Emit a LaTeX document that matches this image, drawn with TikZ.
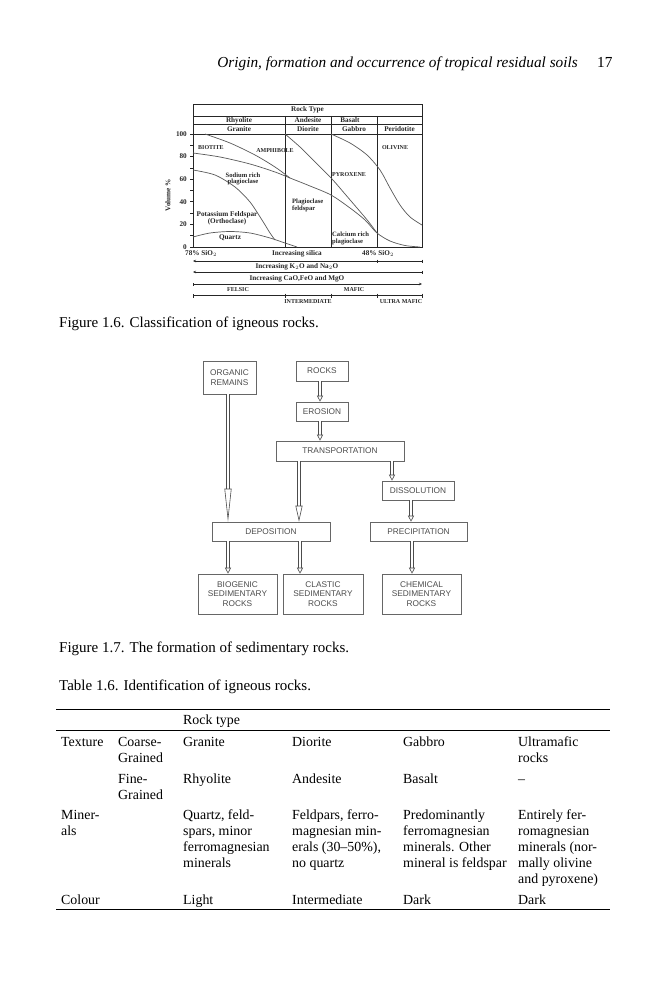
\documentclass[tikz,border=0pt]{standalone}
\usepackage{fontspec}
\setmainfont{Liberation Serif}
\newfontfamily\flowfont{Liberation Sans}
\usetikzlibrary{arrows.meta}
\usetikzlibrary{calc}

\newcommand\cellx[1]{\begin{tabular}[t]{@{}l@{}}#1\end{tabular}}

\tikzset{
  chartlbl/.style={font=\fontsize{7.2}{7.4}\selectfont\bfseries, inner sep=0pt, text=black!85},
  capslbl/.style={font=\fontsize{6}{6}\selectfont\bfseries, inner sep=0pt, text=black!85},
  frame/.style={draw=black!85, line width=0.7pt},
  curve/.style={draw=black!65, line width=0.7pt},
  flowbox/.style={draw=black!60, line width=0.6pt, font=\flowfont\fontsize{8.3}{9.3}\selectfont,
                  text=black!70, align=center, inner sep=0pt},
  dbl/.style={draw=black!70, line width=0.6pt, double=white, double distance=2.2pt,
              -{Triangle[open,length=6pt,width=6pt]}},
  body/.style={font=\fontsize{15}{16.4}\selectfont, inner sep=0pt, anchor=base west},
  tbl/.style={body, font=\fontsize{13.9}{16}\selectfont},
  rule/.style={line width=0.5pt},
}

\begin{document}
\begin{tikzpicture}[x=1pt, y=-1pt]
\useasboundingbox[fill=white] (0,0) rectangle (666,1000);

% running head
\node[body, anchor=base east, font=\fontsize{15.3}{16}\selectfont\itshape] (head) at (578,68)
  {Origin, formation and occurrence of tropical residual soils};
\node[body, font=\fontsize{15.3}{16}\selectfont] (page) at (597,68) {17};

%% ---- Figure 1.6 ----
\draw[frame] (193,104) rectangle (422,247);
\draw[frame] (193,116) -- (422,116) (193,124.5) -- (422,124.5) (193,134) -- (422,134);
\foreach \cx in {285,331,377}
  \draw[frame] (\cx,116) -- (\cx,247);
\foreach \v in {0,10,...,100}
  \draw[frame] (193,{247-1.13*\v}) -- (190,{247-1.13*\v});
\foreach \v in {0,20,...,100}
  \node[chartlbl, anchor=east] at (187,{247-1.13*\v}) {\v};
\node[chartlbl, rotate=90] (vol) at (168,195) {Volume \%};

\node[chartlbl] (rtype) at (307.5,110) {Rock Type};
\node[chartlbl] at (239,120.3) {Rhyolite};
\node[chartlbl] at (308,120.3) {Andesite};
\node[chartlbl] at (350,120.3) {Basalt};
\node[chartlbl] at (239,129.3) {Granite};
\node[chartlbl] at (308,129.3) {Diorite};
\node[chartlbl] at (354,129.3) {Gabbro};
\node[chartlbl] at (399.5,129.3) {Peridotite};

% mineral boundaries
\draw[curve] plot[smooth] coordinates {(205,134) (230,143) (255,155) (275,167) (290,178)};
\draw[curve] plot[smooth] coordinates {(193,153) (220,157) (250,164) (275,172) (290,178)
  (310,186) (331,195) (350,208) (365,220) (377,233) (390,241) (405,245.5) (420,247)};
\draw[curve] plot[smooth] coordinates {(285,134) (300,147) (315,162) (332,179) (345,194)
  (357,208) (368,221) (377,233)};
\draw[curve] plot[smooth] coordinates {(331,134) (350,143) (367,155) (380,170) (390,188)
  (400,205) (410,217) (422,225)};
\draw[curve] plot[smooth] coordinates {(193,170) (215,175) (235,187) (250,202) (262,220)
  (270,233) (275,240)};
\draw[curve] plot[smooth] coordinates {(193,237) (210,233) (230,231.5) (250,233) (270,238)
  (285,243) (297,247)};

\node[capslbl, anchor=west] at (198,147.5) {BIOTITE};
\node[capslbl] at (275,151) {AMPHIBOLE};
\node[capslbl] at (395,148) {OLIVINE};
\node[capslbl] at (349,175) {PYROXENE};
\node[chartlbl, align=center, font=\fontsize{6.6}{6.8}\selectfont\bfseries] at (243,179) {Sodium rich\\plagioclase};
\node[chartlbl, align=left, anchor=west, font=\fontsize{6.6}{6.8}\selectfont\bfseries] at (292,205.5) {Plagioclase\\feldspar};
\node[chartlbl, align=center] at (227,218) {Potassium Feldspar\\(Orthoclase)};
\node[chartlbl] at (230,238) {Quartz};
\node[chartlbl, align=left, anchor=west, font=\fontsize{6.6}{6.8}\selectfont\bfseries] at (332,238.5) {Calcium rich\\plagioclase};

% scales under the chart
\node[chartlbl, anchor=west] at (185,254) {78\% SiO$_2$};
\node[chartlbl] at (297,254) {Increasing silica};
\node[chartlbl, anchor=west] at (362,254) {48\% SiO$_2$};
\draw[frame, line width=0.5pt, {Stealth[length=3pt,width=2.5pt]}-{Bar[width=3pt]}] (193,261) -- (422,261);
\draw[frame, line width=0.5pt] (377,259.5) -- (377,262.5);
\node[chartlbl] at (297,266.5) {Increasing K$_2$O and Na$_2$O};
\draw[frame, line width=0.5pt, {Stealth[length=3pt,width=2.5pt]}-{Bar[width=3pt]}] (193,272) -- (422,272);
\node[chartlbl] at (297,279) {Increasing CaO,FeO and MgO};
\draw[frame, line width=0.5pt, {Bar[width=3pt]}-{Stealth[length=3pt,width=2.5pt]}] (193,284) -- (422,284);
\draw[frame, line width=0.5pt, {Bar[width=4pt]}-{Bar[width=4pt]}] (193,295.5) -- (422,295.5);
\foreach \cx in {285,331,377}
  \draw[frame, line width=0.5pt] (\cx,293.5) -- (\cx,297.5);
\node[capslbl] at (238,290) {FELSIC};
\node[capslbl] at (354,290) {MAFIC};
\node[capslbl] at (308,302) {INTERMEDIATE};
\node[capslbl] at (401,302) {ULTRA MAFIC};

\node[body] (cap1) at (59,327) {Figure 1.6. Classification of igneous rocks.};

%% ---- Figure 1.7 ----
\node[flowbox, minimum width=53pt, minimum height=33pt] (org) at (229.5,377.5) {ORGANIC\\REMAINS};
\node[flowbox, minimum width=52pt, minimum height=20pt] (rocks) at (322,371) {ROCKS};
\node[flowbox, minimum width=52pt, minimum height=19pt] (ero) at (322,411.5) {EROSION};
\node[flowbox, minimum width=128pt, minimum height=20pt] (trans) at (340,451) {TRANSPORTATION};
\node[flowbox, minimum width=72pt, minimum height=19pt] (diss) at (418,490.5) {DISSOLUTION};
\node[flowbox, minimum width=118pt, minimum height=19pt] (dep) at (271,531.5) {DEPOSITION};
\node[flowbox, minimum width=97pt, minimum height=19pt] (prec) at (418.5,531.5) {PRECIPITATION};
\node[flowbox, minimum width=79pt, minimum height=40pt] (bio) at (237.5,594) {BIOGENIC\\SEDIMENTARY\\ROCKS};
\node[flowbox, minimum width=80pt, minimum height=40pt] (clas) at (323,594) {CLASTIC\\SEDIMENTARY\\ROCKS};
\node[flowbox, minimum width=79pt, minimum height=40pt] (chem) at (421.5,594) {CHEMICAL\\SEDIMENTARY\\ROCKS};

\draw[dbl] (rocks.south -| 320,0) -- (ero.north -| 320,0);
\draw[dbl] (ero.south -| 320,0) -- (trans.north -| 320,0);
\draw[dbl, -{Triangle[open,length=33pt,width=7pt]}] (org.south -| 228,0) -- (dep.north -| 228,0);
\draw[dbl, -{Triangle[open,length=16pt,width=7pt]}] (trans.south -| 299,0) -- (dep.north -| 299,0);
\draw[dbl] (trans.south -| 392,0) -- (diss.north -| 392,0);
\draw[dbl] (diss.south -| 411,0) -- (prec.north -| 411,0);
\draw[dbl] (dep.south -| 228,0) -- (bio.north -| 228,0);
\draw[dbl] (dep.south -| 300,0) -- (clas.north -| 300,0);
\draw[dbl] (prec.south -| 412,0) -- (chem.north -| 412,0);

\node[body] (cap2) at (59,652) {Figure 1.7. The formation of sedimentary rocks.};

%% ---- Table 1.6 ----
\node[body] (cap3) at (59,690) {Table 1.6. Identification of igneous rocks.};
\draw[line width=1.1pt] (56,709.3) -- (610,709.3);
\draw[rule] (56,730.6) -- (610,730.6);
\draw[rule] (56,909.5) -- (610,909.5);

\node[tbl] at (183,724.7) {Rock type};

\node[tbl] at (61,746.4) {Texture};
\node[tbl] at (118,746.4) {\cellx{Coarse-\\Grained}};
\node[tbl] at (183,746.4) {Granite};
\node[tbl] at (292,746.4) {Diorite};
\node[tbl] at (403,746.4) {Gabbro};
\node[tbl] at (518,746.4) {\cellx{Ultramafic\\rocks}};

\node[tbl] at (118,783) {\cellx{Fine-\\Grained}};
\node[tbl] at (183,783) {Rhyolite};
\node[tbl] at (292,783) {Andesite};
\node[tbl] at (403,783) {Basalt};
\node[tbl] at (518,783) {--};

\node[tbl] at (61,819.6) {\cellx{Miner-\\als}};
\node[tbl] at (183,819.6) {\cellx{Quartz, feld-\\spars, minor\\ferromagnesian\\minerals}};
\node[tbl] at (292,819.6) {\cellx{Feldpars, ferro-\\magnesian min-\\erals (30--50\%),\\no quartz}};
\node[tbl] at (403,819.6) {\cellx{Predominantly\\ferromagnesian\\minerals. Other\\mineral is feldspar}};
\node[tbl] at (518,819.6) {\cellx{Entirely fer-\\romagnesian\\minerals (nor-\\mally olivine\\and pyroxene)}};

\node[tbl] at (61,904.6) {Colour};
\node[tbl] at (183,904.6) {Light};
\node[tbl] at (292,904.6) {Intermediate};
\node[tbl] at (403,904.6) {Dark};
\node[tbl] at (518,904.6) {Dark};
\end{tikzpicture}
\end{document}
